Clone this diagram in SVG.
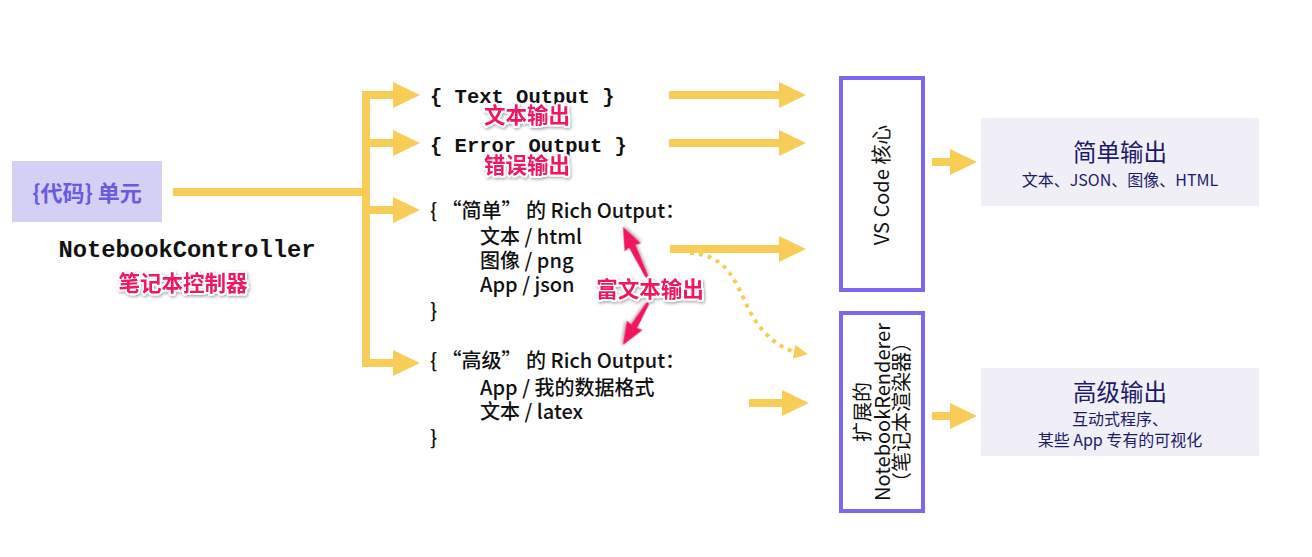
<svg xmlns="http://www.w3.org/2000/svg" width="1312" height="557" viewBox="0 0 1312 557">
<defs>
<style>
.y{stroke:#f8cd57;stroke-width:8;fill:none}
.mono{font-family:"Liberation Mono",monospace;font-weight:bold;fill:#111}
.cn{font-family:"Noto Sans CJK SC","Noto Sans",sans-serif;font-weight:500;fill:#111;font-size:20px}
.pink{font-family:"Noto Sans CJK SC",sans-serif;font-weight:bold;fill:#f0125e;stroke:#fff;stroke-width:4;paint-order:stroke;stroke-linejoin:round;filter:url(#sh)}
.box{fill:none;stroke:#7b68ee;stroke-width:4}
.vt{font-family:"Noto Sans CJK SC","Noto Sans",sans-serif;font-size:20px;fill:#111;text-anchor:middle}
.out{fill:#f0eff7}
.t1{font-family:"Noto Sans CJK SC",sans-serif;font-size:23.5px;fill:#1c1a6b;text-anchor:middle}
.t2{font-family:"Noto Sans CJK SC",sans-serif;font-size:16px;fill:#1c1a6b;text-anchor:middle}
.ra{fill:#f0125e;filter:url(#sh)}
</style>
<filter id="sh" x="-20%" y="-20%" width="140%" height="160%">
<feDropShadow dx="1" dy="1.5" stdDeviation="1.5" flood-color="#000" flood-opacity="0.35"/>
</filter>
<marker id="ah" markerUnits="userSpaceOnUse" markerWidth="28" markerHeight="28" refX="0" refY="13" orient="auto">
<path d="M0,0 L27,13 L0,26 z" fill="#f8cd57"/>
</marker>
<marker id="as" markerUnits="userSpaceOnUse" markerWidth="16" markerHeight="16" refX="2" refY="7" orient="auto">
<path d="M0,0 L14,7 L0,14 z" fill="#f8cd57"/>
</marker>
</defs>
<rect width="1312" height="557" fill="#fff"/>

<g id="connectors">
<path class="y" d="M173,192 H366"/>
<path class="y" d="M393,95 H366 V363 H393" marker-end="url(#ah)" style="stroke-linejoin:miter"/>
<path class="y" d="M366,95 H393" marker-end="url(#ah)"/>
<path class="y" d="M366,143 H393" marker-end="url(#ah)"/>
<path class="y" d="M366,210 H393" marker-end="url(#ah)"/>
<path class="y" d="M669,95 H779" marker-end="url(#ah)"/>
<path class="y" d="M669,143 H779" marker-end="url(#ah)"/>
<path class="y" d="M670,249 H779" marker-end="url(#ah)"/>
<path class="y" d="M749,403 H782" marker-end="url(#ah)"/>
<path class="y" d="M932,162 H950" marker-end="url(#ah)"/>
<path class="y" d="M932,416 H950" marker-end="url(#ah)"/>
<path d="M690,253 C735,255 738,295 755,320 C768,340 785,350 796,352" fill="none" stroke="#f8cd57" stroke-width="4" stroke-dasharray="4 5" marker-end="url(#as)"/>
</g>

<g id="code-cell">
<rect x="12" y="161" width="150" height="61" fill="#d4d0f4"/>
<text x="87" y="201" text-anchor="middle" font-family="Noto Sans CJK SC,sans-serif" font-size="22" font-weight="bold" fill="#6a5ae0">{代码} 单元</text>
</g>

<g id="controller">
<text class="mono" x="187" y="257" font-size="23.8" text-anchor="middle">NotebookController</text>
<text class="pink" x="183" y="291" font-size="21.5" text-anchor="middle">笔记本控制器</text>
</g>

<g id="text-output">
<text class="mono" x="430" y="103" font-size="20.5" xml:space="preserve">{ Text Output }</text>
<text class="pink" x="527" y="123" font-size="21.5" text-anchor="middle">文本输出</text>
</g>

<g id="error-output">
<text class="mono" x="430" y="152" font-size="20.5" xml:space="preserve">{ Error Output }</text>
<text class="pink" x="527" y="173" font-size="21.5" text-anchor="middle">错误输出</text>
</g>

<g id="simple-rich">
<text class="cn" x="430" y="218" xml:space="preserve">{ “简单” 的 Rich Output：</text>
<text class="cn" x="480" y="244">文本 / html</text>
<text class="cn" x="480" y="268">图像 / png</text>
<text class="cn" x="480" y="292">App / json</text>
<text class="cn" x="430" y="318">}</text>
</g>

<g id="advanced-rich">
<text class="cn" x="430" y="368" xml:space="preserve">{ “高级” 的 Rich Output：</text>
<text class="cn" x="480" y="395">App / 我的数据格式</text>
<text class="cn" x="480" y="419">文本 / latex</text>
<text class="cn" x="430" y="445">}</text>
</g>

<g id="rich-label">
<polygon class="ra" transform="translate(647,277) rotate(-115.6)" points="0,-1.5 34,-3.5 33,-9 55.5,0 33,9 34,3.5 0,1.5"/>
<polygon class="ra" transform="translate(648,303) rotate(120.8)" points="0,-1.5 27,-3.5 26,-9 49,0 26,9 27,3.5 0,1.5"/>
<text class="pink" x="650" y="297" font-size="21.5" text-anchor="middle">富文本输出</text>
</g>

<g id="vscode-core">
<rect class="box" x="841" y="78" width="82" height="212"/>
<text class="vt" transform="translate(889,185) rotate(-90)">VS Code 核心</text>
</g>

<g id="renderer">
<rect class="box" x="841" y="313" width="82" height="198"/>
<text class="vt" transform="translate(870,412) rotate(-90)">扩展的</text>
<text class="vt" transform="translate(890,412) rotate(-90)">NotebookRenderer</text>
<text class="vt" transform="translate(909,412) rotate(-90)">（笔记本渲染器）</text>
</g>

<g id="simple-output">
<rect class="out" x="981" y="118" width="278" height="88"/>
<text class="t1" x="1120" y="161">简单输出</text>
<text class="t2" x="1120" y="186">文本、JSON、图像、HTML</text>
</g>

<g id="advanced-output">
<rect class="out" x="981" y="368" width="278" height="88"/>
<text class="t1" x="1120" y="401">高级输出</text>
<text class="t2" x="1120" y="425">互动式程序、</text>
<text class="t2" x="1120" y="446">某些 App 专有的可视化</text>
</g>
</svg>
